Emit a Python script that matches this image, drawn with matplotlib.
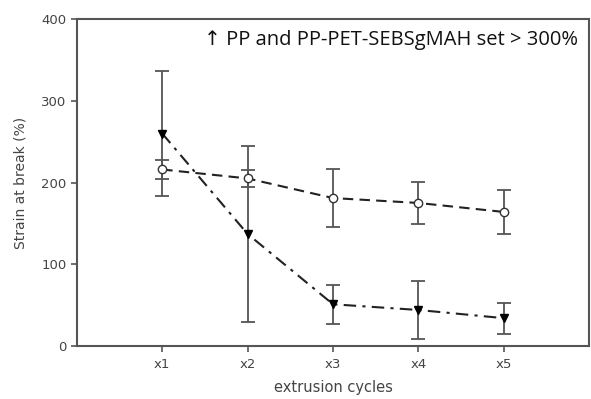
import matplotlib
matplotlib.use("Agg")
import matplotlib.pyplot as plt

# extrusion cycles
cycles = ["x1", "x2", "x3", "x4", "x5"]
positions = [1, 2, 3, 4, 5]

# open circles, dashed line
circle_vals = [216, 205, 181, 175, 164]
circle_err = [12, 10, 36, 26, 27]

# filled down triangles, dash-dot line
tri_vals = [260, 137, 51, 44, 34]
tri_err = [76, 108, 24, 36, 19]

gray = "#555555"
text_gray = "#444444"

fig = plt.figure(figsize=(5.91, 3.99), dpi=100)
ax = fig.add_axes([0.130, 0.133, 0.867, 0.819])

# error bars first, then lines and markers on top
ax.errorbar(positions, tri_vals, yerr=tri_err, fmt="none", ecolor=gray,
            elinewidth=1.3, capsize=5, capthick=1.3, zorder=2)
ax.errorbar(positions, circle_vals, yerr=circle_err, fmt="none", ecolor=gray,
            elinewidth=1.3, capsize=5, capthick=1.3, zorder=2)

ax.plot(positions, circle_vals, linestyle=(0, (5, 3)), color="#222222",
        linewidth=1.5, marker="o", markersize=6, markerfacecolor="white",
        markeredgecolor="#333333", markeredgewidth=1.0, zorder=3)
ax.plot(positions, tri_vals, linestyle=(0, (6, 3, 1.5, 3)), color="#222222",
        linewidth=1.5, marker="v", markersize=6, markerfacecolor="black",
        markeredgecolor="black", zorder=3)

ax.set_xlim(0, 6)
ax.set_ylim(0, 400)
ax.set_xticks(positions)
ax.set_xticklabels(cycles)
ax.set_yticks([0, 100, 200, 300, 400])

for s in ax.spines.values():
    s.set_color(gray)
    s.set_linewidth(1.5)

ax.tick_params(axis="both", direction="out", length=4, width=1.2, color=gray,
               labelsize=9.5, labelcolor=text_gray)
ax.tick_params(axis="x", pad=5)

ax.set_xlabel("extrusion cycles", fontsize=10.5, color=text_gray, labelpad=6)
ax.set_ylabel("Strain at break (%)", fontsize=10, color=text_gray, labelpad=10)

ax.text(0.979, 0.936, "\u2191 PP and PP-PET-SEBSgMAH set > 300%",
        transform=ax.transAxes, ha="right", va="center", fontsize=14.5,
        family=["Open Sans", "DejaVu Sans"], color="#111111")

fig.savefig("out.png", dpi=100)
